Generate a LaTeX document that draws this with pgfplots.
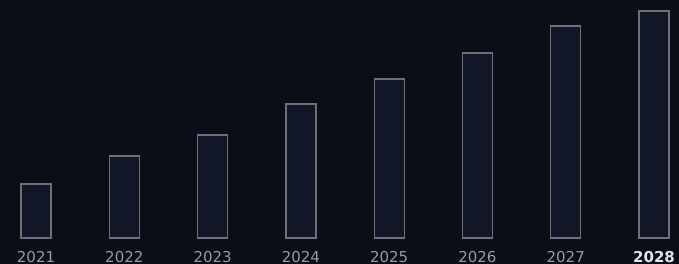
\documentclass[border=0pt]{standalone}
\usepackage{pgfplots}
\pgfplotsset{compat=1.18}
\usepackage{fontspec}
\setmainfont{DejaVu Sans}
\definecolor{bg}{HTML}{0B0E16}
\definecolor{barfill}{HTML}{121728}
\definecolor{barline}{HTML}{6E7079}
\definecolor{lbl}{HTML}{989AA0}
\definecolor{lblhi}{HTML}{E4E4E6}
\begin{document}
\begin{tikzpicture}
\path[use as bounding box] (0,0) rectangle (679bp,264bp);
\fill[bg] (0,0) rectangle (679bp,264bp);
\begin{axis}[
  at={(0,26bp)}, anchor=south west,
  scale only axis,
  width=679bp, height=238bp,
  xmin=-0.408, xmax=7.283,
  ymin=0, ymax=238,
  ybar, bar width=30bp, bar shift=0pt,
  axis line style={draw=none},
  tick style={draw=none},
  ytick=\empty,
  xtick=data,
  xticklabels={2021,2022,2023,2024,2025,2026,2027,{\bfseries\color{lblhi}2028}},
  xticklabel style={anchor=base, yshift=-20.5bp, inner sep=0pt, text=lbl,
    font=\fontsize{15bp}{17bp}\selectfont},
  clip=false,
]
\addplot[draw=barline, line width=1.3bp, fill=barfill] coordinates {
  (0,54) (1,82) (2,103) (3,134) (4,159) (5,185) (6,212) (7,227)
};
\end{axis}
\end{tikzpicture}
\end{document}
